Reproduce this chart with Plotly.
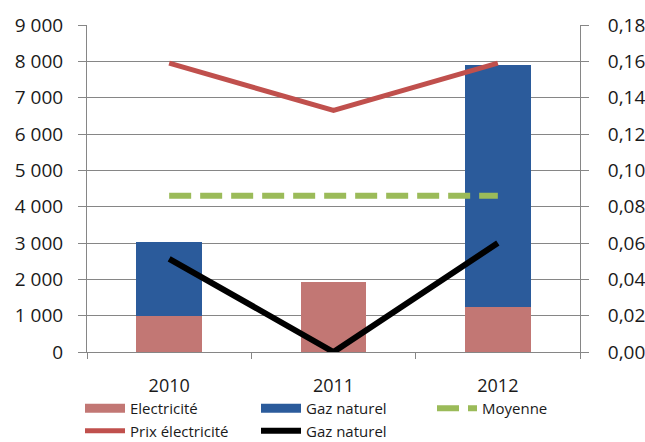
import plotly.graph_objects as go

years = ["2010", "2011", "2012"]
elec = [1000, 1940, 1240]
gaz = [2040, 0, 6650]
prix_elec = [0.159, 0.133, 0.159]
prix_gaz = [0.0513, 0.0, 0.06]
moyenne = [0.086, 0.086, 0.086]

left_ticks = [0, 1000, 2000, 3000, 4000, 5000, 6000, 7000, 8000, 9000]
right_ticks = [0, 0.02, 0.04, 0.06, 0.08, 0.10, 0.12, 0.14, 0.16, 0.18]

C_ELEC = "#c27774"
C_GAZ = "#2b5b9b"
C_PRIX = "#c0504d"
C_GAZL = "#000000"
C_MOY = "#9bbb59"
FONT = "Open Sans"
TXT = "#1a1a1a"
AX = "#868686"

# figure is a little taller than the 442px window so the legend can sit low;
# the overflow is hidden by the page
W, H = 645, 452
TOP = 25
PLOT_L, PLOT_R, PLOT_B = 87, 580, 352
LEGEND_TOP = 392

fig = go.Figure()
fig.add_trace(go.Bar(x=years, y=elec, name="Electricité", marker=dict(color=C_ELEC, line=dict(width=0)),
                     showlegend=False))
fig.add_trace(go.Bar(x=years, y=gaz, name="Gaz naturel", marker=dict(color=C_GAZ, line=dict(width=0)),
                     showlegend=False))

# legend entries styled like the Excel swatches
fig.add_trace(go.Scatter(x=[None], y=[None], mode="lines", name="Electricité",
                         line=dict(color=C_ELEC, width=9)))
fig.add_trace(go.Scatter(x=[None], y=[None], mode="lines", name="Gaz naturel",
                         line=dict(color=C_GAZ, width=9)))

fig.add_trace(go.Scatter(x=years, y=moyenne, yaxis="y2", mode="lines", name="Moyenne",
                         line=dict(color=C_MOY, width=6, dash="22px,9px")))
fig.add_trace(go.Scatter(x=years, y=prix_elec, yaxis="y2", mode="lines", name="Prix électricité",
                         line=dict(color=C_PRIX, width=5)))
fig.add_trace(go.Scatter(x=years, y=prix_gaz, yaxis="y2", mode="lines", name="Gaz naturel",
                         line=dict(color=C_GAZL, width=6)))

paper_h = H - TOP
fig.update_layout(
    width=W, height=H,
    margin=dict(l=0, r=0, t=TOP, b=0),
    paper_bgcolor="white", plot_bgcolor="rgba(0,0,0,0)",
    barmode="stack", bargap=0.6,
    separators=", ",
    font=dict(family=FONT, color=TXT, size=18),
    xaxis=dict(type="category", tickson="boundaries", showgrid=False,
               domain=[PLOT_L / W, PLOT_R / W],
               showline=True, linecolor=AX, linewidth=1,
               ticks="outside", ticklen=6, tickcolor=AX,
               tickfont=dict(size=18), ticklabelstandoff=17, automargin=False),
    yaxis=dict(range=[0, 9000], tickvals=left_ticks, tickformat=",d",
               domain=[(H - PLOT_B) / paper_h, 1],
               showgrid=True, gridcolor=AX, gridwidth=1,
               showline=True, linecolor=AX, linewidth=1,
               ticks="outside", ticklen=8, tickcolor=AX,
               tickfont=dict(size=19), ticklabelstandoff=11, zeroline=False, automargin=False),
    yaxis2=dict(range=[0, 0.18], tickvals=right_ticks, tickformat=".2f",
                overlaying="y", side="right", anchor="x", showgrid=False,
                showline=True, linecolor=AX, linewidth=1,
                ticks="outside", ticklen=8, tickcolor=AX,
                tickfont=dict(size=19), ticklabelstandoff=15, zeroline=False, automargin=False),
    legend=dict(orientation="h", traceorder="normal",
                x=80 / W, y=(H - LEGEND_TOP) / paper_h, xanchor="left", yanchor="top",
                entrywidth=121, entrywidthmode="pixels",
                font=dict(size=15, color=TXT), itemwidth=40,
                tracegroupgap=0, bgcolor="rgba(0,0,0,0)"),
)

fig.write_html("out.html", config={"displayModeBar": False},
               post_script="document.body.style.margin='0';"
                           "document.body.style.overflow='hidden';"
                           "document.documentElement.style.overflow='hidden';")
